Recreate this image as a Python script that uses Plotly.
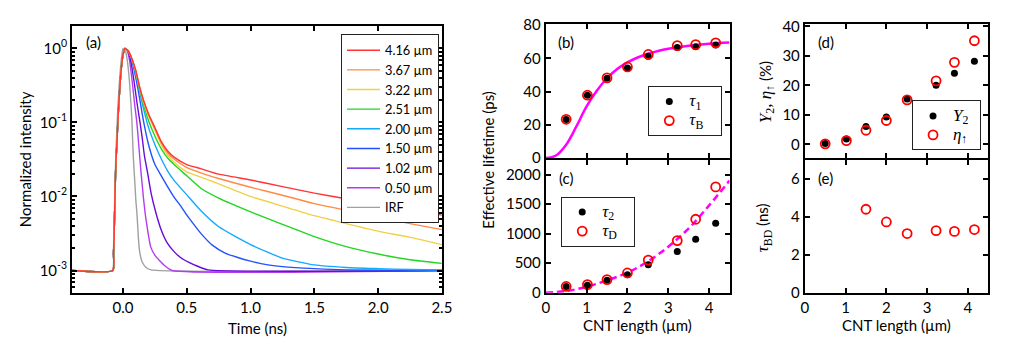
import plotly.graph_objects as go

# ---------------- Panel (a) data: normalized PL decays ----------------
t_rise = [-0.40, -0.080, -0.075, -0.070, -0.064, -0.056, -0.050, -0.040, -0.030, -0.020, -0.010, 0.000]
i_rise = [0.001, 0.001, 0.0017, 0.003, 0.009, 0.03, 0.045, 0.11, 0.22, 0.40, 0.62, 0.82]

t_grid = [0.015, 0.04, 0.07, 0.10, 0.13, 0.16, 0.20, 0.25, 0.30, 0.35, 0.40, 0.50, 0.615, 0.75,
          1.00, 1.25, 1.50, 1.75, 2.00, 2.25, 2.50]
i_416 = [1.0, 0.93, 0.72, 0.50, 0.30, 0.20, 0.130, 0.085, 0.055, 0.041, 0.034, 0.027, 0.0236, 0.0200,
         0.0167, 0.0136, 0.0111, 0.0093, 0.0078, 0.0066, 0.0056]
i_367 = [1.0, 0.93, 0.72, 0.50, 0.30, 0.20, 0.128, 0.082, 0.053, 0.039, 0.032, 0.0245, 0.0207, 0.0175,
         0.0133, 0.0104, 0.0080, 0.0065, 0.0053, 0.0043, 0.00356]
i_322 = [1.0, 0.93, 0.72, 0.49, 0.29, 0.19, 0.122, 0.078, 0.050, 0.036, 0.029, 0.0215, 0.0181, 0.0148,
         0.0100, 0.0074, 0.0055, 0.0043, 0.0034, 0.0028, 0.00224]
i_251 = [1.0, 0.93, 0.71, 0.48, 0.28, 0.175, 0.105, 0.065, 0.044, 0.033, 0.027, 0.019, 0.0127, 0.0095,
         0.0062, 0.0042, 0.00287, 0.0021, 0.00167, 0.0014, 0.00125]
i_200 = [1.0, 0.92, 0.70, 0.45, 0.26, 0.155, 0.085, 0.050, 0.032, 0.022, 0.0165, 0.0105, 0.0063, 0.0039,
         0.00224, 0.00147, 0.00119, 0.0011, 0.00106, 0.00103, 0.00102]

t_150 = [0.015, 0.04, 0.07, 0.10, 0.13, 0.16, 0.20, 0.25, 0.30, 0.35, 0.40, 0.45, 0.50, 0.55, 0.615,
         0.70, 0.80, 0.90, 1.00, 1.125, 1.25, 1.50, 1.75, 2.50]
i_150 = [1.0, 0.92, 0.68, 0.40, 0.21, 0.105, 0.050, 0.027, 0.019, 0.0135, 0.0098, 0.0075, 0.0056, 0.0043,
         0.0031, 0.0022, 0.00172, 0.0015, 0.00134, 0.0012, 0.00113, 0.00106, 0.00102, 0.0010]

t_102 = [0.015, 0.04, 0.06, 0.087, 0.11, 0.133, 0.15, 0.167, 0.19, 0.22, 0.26, 0.30, 0.35, 0.40, 0.45,
         0.513, 0.58, 0.667, 2.50]
i_102 = [1.0, 0.90, 0.68, 0.35, 0.18, 0.10, 0.062, 0.036, 0.022, 0.011, 0.0058, 0.0035, 0.0023, 0.0018,
         0.0015, 0.0013, 0.00115, 0.00102, 0.0010]

t_050 = [0.015, 0.03, 0.05, 0.07, 0.09, 0.108, 0.123, 0.14, 0.16, 0.174, 0.195, 0.216, 0.25, 0.28,
         0.33, 0.385, 2.50]
i_050 = [1.0, 0.95, 0.70, 0.38, 0.18, 0.10, 0.05, 0.022, 0.0095, 0.0058, 0.0033, 0.0021, 0.0016,
         0.0014, 0.00115, 0.0010, 0.0010]

t_irf = [-0.40, -0.085, -0.075, -0.070, -0.064, -0.056, -0.050, -0.040, -0.030, -0.020, -0.010, 0.000,
         0.02, 0.03, 0.04, 0.05, 0.06, 0.07, 0.08, 0.09, 0.10, 0.11, 0.12, 0.13, 0.15, 0.18, 0.22, 2.50]
i_irf = [0.001, 0.001, 0.002, 0.004, 0.012, 0.04, 0.07, 0.17, 0.33, 0.55, 0.80, 1.0,
         0.90, 0.75, 0.55, 0.36, 0.20, 0.10, 0.035, 0.018, 0.009, 0.0055, 0.0028, 0.0018, 0.0013,
         0.0011, 0.00102, 0.0010]

decay_labels = ["4.16 µm", "3.67 µm", "3.22 µm", "2.51 µm", "2.00 µm", "1.50 µm", "1.02 µm", "0.50 µm", "IRF"]
decay_colors = ["#ff3535", "#ff8a45", "#f0d048", "#22d622", "#12aaff", "#2352ff", "#6a0ad8", "#b23cf0", "#a0a0a0"]

# ---------------- Panels (b)-(e) data ----------------
L = [0.50, 1.02, 1.50, 2.00, 2.51, 3.22, 3.67, 4.16]
tau1 = [23.2, 37.8, 48.0, 54.2, 61.2, 66.5, 66.9, 68.0]
tauB = [23.3, 37.8, 48.2, 54.8, 62.3, 67.6, 68.2, 69.3]
tau2 = [106, 128, 213, 303, 473, 697, 904, 1176]
tauD = [106, 138, 223, 335, 553, 883, 1245, 1793]
Y2 = [0.3, 1.8, 6.1, 9.3, 15.4, 20.0, 24.1, 28.2]
eta_up = [0.2, 1.3, 4.8, 8.1, 15.1, 21.5, 27.8, 35.1]
L_BD = [1.50, 2.00, 2.51, 3.22, 3.67, 4.16]
tauBD = [4.40, 3.73, 3.12, 3.27, 3.23, 3.33]

fitB_x = [0, 0.25, 0.5, 0.75, 1.0, 1.25, 1.5, 1.75, 2.0, 2.25, 2.5, 2.75, 3.0, 3.5, 4.0, 4.5]
fitB_y = [0, 1.5, 8, 19, 31, 40.5, 48, 53.5, 57.5, 60.5, 62.7, 64.4, 65.7, 67.6, 68.8, 69.5]
fitD_x = [0, 0.5, 1.0, 1.5, 2.0, 2.5, 3.0, 3.5, 4.0, 4.5]
fitD_y = [0, 28, 100, 210, 340, 530, 780, 1090, 1480, 1900]

# ---------------- Figure ----------------
fig = go.Figure()
SANS = "Lato"
SERIF = "Liberation Serif"
NB = "\u00a0"

series_a = [
    (t_irf, i_irf),
    (t_rise + t_050, i_rise + i_050),
    (t_rise + t_102, i_rise + i_102),
    (t_rise + t_150, i_rise + i_150),
    (t_rise + t_grid, i_rise + i_200),
    (t_rise + t_grid, i_rise + i_251),
    (t_rise + t_grid, i_rise + i_322),
    (t_rise + t_grid, i_rise + i_367),
    (t_rise + t_grid, i_rise + i_416),
]
# draw order: IRF bottom, red top; legend order red first
for k, (tx, iy) in enumerate(series_a):
    idx = 8 - k
    fig.add_trace(go.Scatter(
        x=tx, y=iy, mode="lines", name=decay_labels[idx],
        line=dict(color=decay_colors[idx], width=1.4, shape="spline", smoothing=0.5),
        xaxis="x", yaxis="y", legend="legend", legendrank=idx + 1))

def sym(s, sub, size=17):
    return (f"<span style='font-family:{SERIF};font-size:{size}px'><i>{s}</i>"
            f"<sub>{sub}</sub></span>")

def legname(s, sub, pad=4):
    return sym(s, sub) + NB * pad

open_marker = dict(color="rgba(0,0,0,0)", size=9, line=dict(color="#ff0000", width=1.8))
dot_marker = dict(color="black", size=7)

# (b)
fig.add_trace(go.Scatter(x=fitB_x, y=fitB_y, mode="lines", showlegend=False,
                         line=dict(color="#ff00ff", width=2.5, shape="spline"),
                         xaxis="x2", yaxis="y2"))
fig.add_trace(go.Scatter(x=L, y=tau1, mode="markers", name=legname("τ", "1"), marker=dot_marker,
                         xaxis="x2", yaxis="y2", legend="legend2"))
fig.add_trace(go.Scatter(x=L, y=tauB, mode="markers", name=legname("τ", "B"), marker=open_marker,
                         xaxis="x2", yaxis="y2", legend="legend2"))
# (c)
fig.add_trace(go.Scatter(x=fitD_x, y=fitD_y, mode="lines", showlegend=False,
                         line=dict(color="#ff00ff", width=2.5, dash="7px,4px", shape="spline"),
                         xaxis="x3", yaxis="y3"))
fig.add_trace(go.Scatter(x=L, y=tau2, mode="markers", name=legname("τ", "2"), marker=dot_marker,
                         xaxis="x3", yaxis="y3", legend="legend3"))
fig.add_trace(go.Scatter(x=L, y=tauD, mode="markers", name=legname("τ", "D"), marker=open_marker,
                         xaxis="x3", yaxis="y3", legend="legend3"))
# (d)
fig.add_trace(go.Scatter(x=L, y=Y2, mode="markers", name=legname("Y", "2", 2), marker=dot_marker,
                         xaxis="x4", yaxis="y4", legend="legend4"))
fig.add_trace(go.Scatter(x=L, y=eta_up, mode="markers", name=legname("η", "↑", 2), marker=open_marker,
                         xaxis="x4", yaxis="y4", legend="legend4"))
# (e)
fig.add_trace(go.Scatter(x=L_BD, y=tauBD, mode="markers", showlegend=False, marker=open_marker,
                         xaxis="x5", yaxis="y5"))

W, H = 1017, 355
def dx(p0, p1):
    return [p0 / W, p1 / W]
def dy(top, bottom):
    return [1 - bottom / H, 1 - top / H]

axis_common = dict(showline=True, linewidth=2, linecolor="black", mirror="ticks",
                   ticks="inside", ticklen=5, tickwidth=2, tickcolor="black",
                   showgrid=False, zeroline=False,
                   tickfont=dict(family=SANS, size=15, color="black"))

minor_vals = [m * 10 ** e for e in (-4, -3, -2, -1) for m in range(2, 10) if 5e-4 <= m * 10 ** e <= 1.9]

xa = dx(69, 444); xb = dx(549.3, 735.7); xd = dx(812, 998)
ya = dy(18, 298); yb = dy(16, 156.5); yc = dy(158.5, 298)

legend_box = dict(xanchor="left", yanchor="top", bgcolor="white", bordercolor="#222", borderwidth=1)

fig.update_layout(
    width=W, height=H, margin=dict(l=0, r=0, t=0, b=0),
    paper_bgcolor="white", plot_bgcolor="white",
    xaxis=dict(axis_common, domain=xa, range=[-0.4, 2.5], tickvals=[0, 0.5, 1.0, 1.5, 2.0, 2.5],
               tickformat=".1f", anchor="y"),
    yaxis=dict(axis_common, domain=ya, type="log", range=[-3.3, 0.3],
               tickvals=[0.001, 0.01, 0.1, 1],
               ticktext=["10<sup>-3</sup>", "10<sup>-2</sup>", "10<sup>-1</sup>", "10<sup>0</sup>"],
               minor=dict(ticks="inside", ticklen=3, tickwidth=1.5, tickcolor="black", tickvals=minor_vals),
               anchor="x"),
    xaxis2=dict(axis_common, domain=xb, range=[0, 4.5], tickvals=[0, 1, 2, 3, 4], showticklabels=False,
                anchor="y2"),
    yaxis2=dict(axis_common, domain=yb, range=[0, 80.5], tickvals=[0, 20, 40, 60, 80], anchor="x2"),
    xaxis3=dict(axis_common, domain=xb, range=[0, 4.5], tickvals=[0, 1, 2, 3, 4], anchor="y3"),
    yaxis3=dict(axis_common, domain=yc, range=[0, 2250], tickvals=[0, 500, 1000, 1500, 2000], anchor="x3"),
    xaxis4=dict(axis_common, domain=xd, range=[0, 4.5], tickvals=[0, 1, 2, 3, 4], showticklabels=False,
                anchor="y4"),
    yaxis4=dict(axis_common, domain=yb, range=[-4.6, 40.7], tickvals=[0, 10, 20, 30, 40], anchor="x4"),
    xaxis5=dict(axis_common, domain=xd, range=[0, 4.5], tickvals=[0, 1, 2, 3, 4], anchor="y5"),
    yaxis5=dict(axis_common, domain=yc, range=[0, 7], tickvals=[0, 2, 4, 6], anchor="x5"),
    legend=dict(legend_box, x=341.7 / W, y=1 - 26.7 / H,
                font=dict(family=SANS, size=12.8, color="black"), itemwidth=33, tracegroupgap=0),
    legend2=dict(legend_box, x=653.3 / W, y=1 - 81 / H, font=dict(family=SERIF, size=12.3, color="black")),
    legend3=dict(legend_box, x=565 / W, y=1 - 197 / H, font=dict(family=SERIF, size=12.3, color="black")),
    legend4=dict(legend_box, x=920.7 / W, y=1 - 96 / H, font=dict(family=SERIF, size=12.3, color="black")),
    showlegend=True,
)

def ann(text, x, y, angle=0, size=15, family=SANS):
    fig.add_annotation(text=text, x=x / W, y=1 - y / H, xref="paper", yref="paper",
                       showarrow=False, textangle=angle, xanchor="center", yanchor="middle",
                       font=dict(family=family, size=size, color="black"))

ann("Normalized intensity", 22, 158, -90)
ann("Time (ns)", 257.5, 335)
ann("Effective lifetime (ps)", 491, 158, -90)
ann("CNT length (µm)", 642.5, 331.7)
ann("CNT length (µm)", 905.3, 331.7)
ann(f"<span style='font-family:{SERIF};font-size:17px'><i>Y</i><sub>2</sub>, <i>η</i><sub>↑</sub></span> (%)",
    773, 87, -90)
ann(f"<span style='font-family:{SERIF};font-size:17px'><i>τ</i><sub>BD</sub></span> (ns)", 771, 230, -90)
ann("(a)", 91, 35)
ann("(b)", 570, 35)
ann("(c)", 570, 178)
ann("(d)", 833, 35)
ann("(e)", 833, 178)

fig.write_html("out.html")
